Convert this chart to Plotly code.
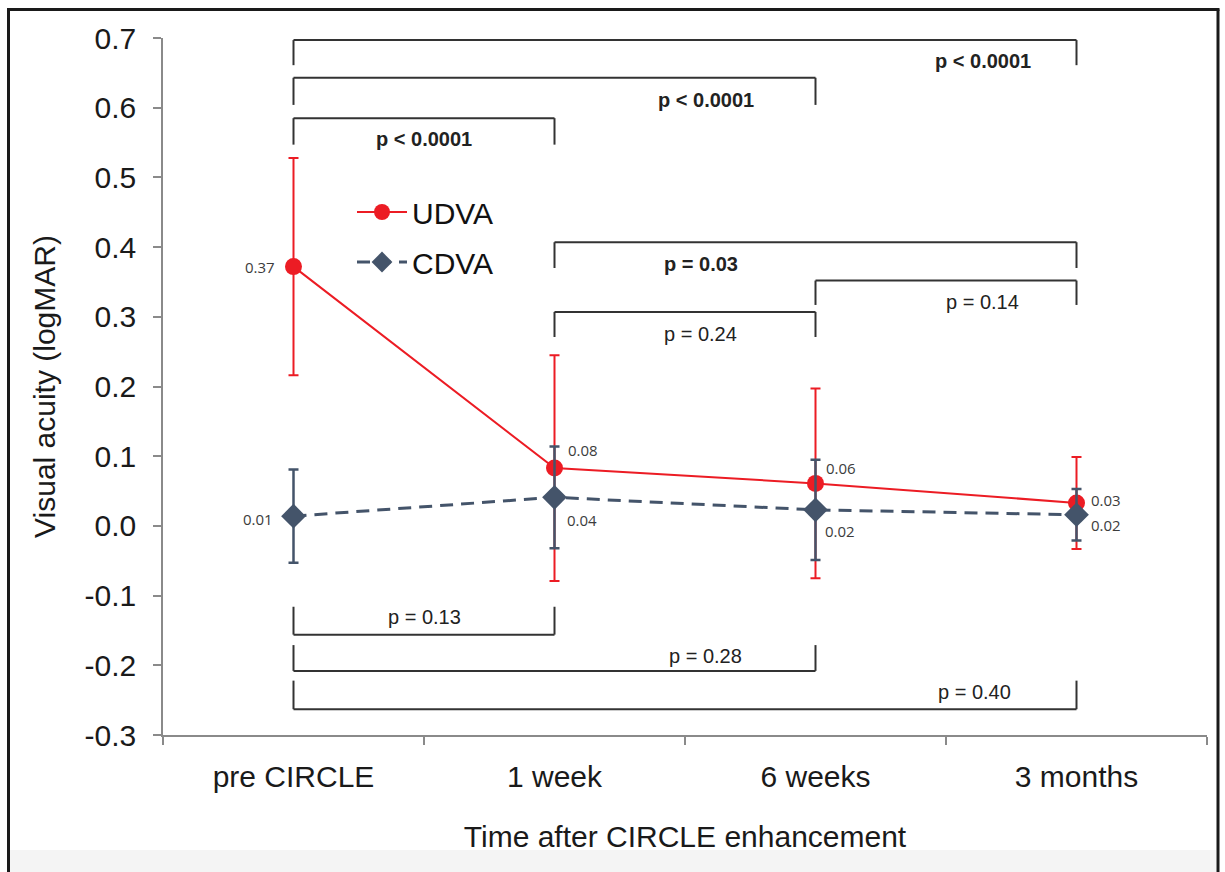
import plotly.graph_objects as go

# ---- data ----
timepoints = ["pre CIRCLE", "1 week", "6 weeks", "3 months"]
udva_mean = [0.372, 0.083, 0.061, 0.033]
udva_sd = [0.156, 0.162, 0.136, 0.066]
cdva_mean = [0.014, 0.041, 0.023, 0.016]
cdva_sd = [0.067, 0.073, 0.072, 0.037]

# pairwise comparisons: (from index, to index, p-value text, significant)
udva_tests = [
    (0, 3, "p < 0.0001", True),
    (0, 2, "p < 0.0001", True),
    (0, 1, "p < 0.0001", True),
    (1, 3, "p = 0.03", True),
    (2, 3, "p = 0.14", False),
    (1, 2, "p = 0.24", False),
]
cdva_tests = [
    (0, 1, "p = 0.13", False),
    (0, 2, "p = 0.28", False),
    (0, 3, "p = 0.40", False),
]

# ---- styling ----
RED = "#ec1c24"
SLATE = "#44546a"
AXIS = "#8a8a8a"
INK = "#333333"
FONT = "Liberation Sans, Arial, sans-serif"

# bracket geometry (bar level, tip level, label x, label y) in data units
udva_bracket_pos = [
    (0.697, 0.661, 2.64, 0.667),
    (0.643, 0.604, 1.58, 0.611),
    (0.585, 0.547, 0.50, 0.555),
    (0.407, 0.370, 1.56, 0.376),
    (0.352, 0.317, 2.64, 0.321),
    (0.307, 0.271, 1.56, 0.275),
]
cdva_bracket_pos = [
    (-0.156, -0.116, 0.50, -0.131),
    (-0.208, -0.171, 1.58, -0.187),
    (-0.263, -0.222, 2.61, -0.238),
]

# value-label offsets in pixels (anchor, xshift, yshift)
udva_label_off = [("right", -17, 0), ("left", 11, 18), ("left", 8, 15), ("left", 12, 3)]
cdva_label_off = [("right", -19, -3), ("left", 10, -23), ("left", 7, -21), ("left", 12, -10)]

fig = go.Figure()

fig.add_trace(go.Scatter(
    x=timepoints, y=udva_mean, name="UDVA", mode="lines+markers",
    line=dict(color=RED, width=2),
    marker=dict(color=RED, size=17, symbol="circle"),
    error_y=dict(type="data", array=udva_sd, visible=True, color=RED,
                 thickness=2, width=5),
    legendgroup="a",
))
fig.add_trace(go.Scatter(
    x=timepoints, y=cdva_mean, name="CDVA", mode="lines+markers",
    line=dict(color=SLATE, width=3, dash="13px,8px"),
    marker=dict(color=SLATE, size=19, symbol="diamond"),
    error_y=dict(type="data", array=cdva_sd, visible=True, color=SLATE,
                 thickness=2.5, width=5),
    legendgroup="b",
))

shapes = []
annotations = []


def bracket(i, j, bar, tip):
    common = dict(type="line", xref="x", yref="y",
                  line=dict(color=INK, width=2))
    shapes.append(dict(x0=i, x1=j, y0=bar, y1=bar, **common))
    shapes.append(dict(x0=i, x1=i, y0=bar, y1=tip, **common))
    shapes.append(dict(x0=j, x1=j, y0=bar, y1=tip, **common))


for (i, j, txt, sig), (bar, tip, lx, ly) in zip(udva_tests + cdva_tests,
                                                 udva_bracket_pos + cdva_bracket_pos):
    bracket(i, j, bar, tip)
    annotations.append(dict(
        x=lx, y=ly, xref="x", yref="y", showarrow=False,
        text=f"<b>{txt}</b>" if sig else txt,
        font=dict(family=FONT, size=20, color="#222222"),
        xanchor="center", yanchor="middle",
    ))

for means, offs in ((udva_mean, udva_label_off), (cdva_mean, cdva_label_off)):
    for k, (v, (anc, dx, dy)) in enumerate(zip(means, offs)):
        annotations.append(dict(
            x=k, y=v, xref="x", yref="y", showarrow=False,
            text=f"{v:.2f}", xanchor=anc, yanchor="middle",
            xshift=dx, yshift=dy,
            font=dict(family="Open Sans, sans-serif", size=15, color="#3c3c3c"),
        ))

# outer frame and grey strip along the bottom of the canvas
W, H = 1225, 872
L, R, T, B = 163, 18, 38, 137
pw, ph = W - L - R, H - T - B


def px(x):
    return (x - L) / pw


def py(y):
    return (H - B - y) / ph


shapes.append(dict(type="rect", xref="paper", yref="paper",
                   x0=px(10), x1=px(1216), y0=py(872), y1=py(850),
                   fillcolor="#f4f4f4", line=dict(width=0), layer="below"))
frame_line = dict(color="#1a1a1a", width=3)
shapes.append(dict(type="line", xref="paper", yref="paper",
                   x0=px(8.5), x1=px(8.5), y0=py(9.5), y1=py(872), line=frame_line))
shapes.append(dict(type="line", xref="paper", yref="paper",
                   x0=px(1218), x1=px(1218), y0=py(9.5), y1=py(872), line=frame_line))
shapes.append(dict(type="line", xref="paper", yref="paper",
                   x0=px(7), x1=px(1219.5), y0=py(9.5), y1=py(9.5), line=frame_line))

fig.update_layout(
    width=W, height=H,
    margin=dict(l=L, r=R, t=T, b=B, pad=0),
    paper_bgcolor="white", plot_bgcolor="white",
    font=dict(family=FONT, color="#1a1a1a"),
    showlegend=True,
    legend=dict(
        x=px(352), y=py(186), xanchor="left", yanchor="top",
        bgcolor="rgba(0,0,0,0)", font=dict(family=FONT, size=30, color="#111111"),
        traceorder="grouped", tracegroupgap=8, itemwidth=50,
    ),
    shapes=shapes,
    annotations=annotations,
    xaxis=dict(
        type="category", categoryorder="array", categoryarray=timepoints,
        range=[-0.5, 3.5], showgrid=False, zeroline=False,
        showline=True, linecolor=AXIS, linewidth=1.5,
        ticks="outside", tickson="boundaries", ticklen=8, tickcolor=AXIS, tickwidth=1.5,
        tickfont=dict(family=FONT, size=30, color="#1a1a1a"),
        ticklabelstandoff=14,
        title=dict(text="Time after CIRCLE enhancement",
                   font=dict(family=FONT, size=30, color="#1a1a1a"), standoff=34),
    ),
    yaxis=dict(
        range=[-0.3, 0.7], tickmode="array",
        tickvals=[-0.3, -0.2, -0.1, 0.0, 0.1, 0.2, 0.3, 0.4, 0.5, 0.6, 0.7],
        ticktext=["-0.3", "-0.2", "-0.1", "0.0", "0.1", "0.2", "0.3", "0.4", "0.5", "0.6", "0.7"],
        showgrid=False, zeroline=False,
        showline=True, linecolor=AXIS, linewidth=1.5,
        ticks="outside", ticklen=8, tickcolor=AXIS, tickwidth=1.5,
        tickfont=dict(family=FONT, size=30, color="#1a1a1a"),
        ticklabelstandoff=11,
        title=dict(text="Visual acuity (logMAR)",
                   font=dict(family=FONT, size=30, color="#1a1a1a"), standoff=20),
    ),
)

fig.write_html("out.html")
